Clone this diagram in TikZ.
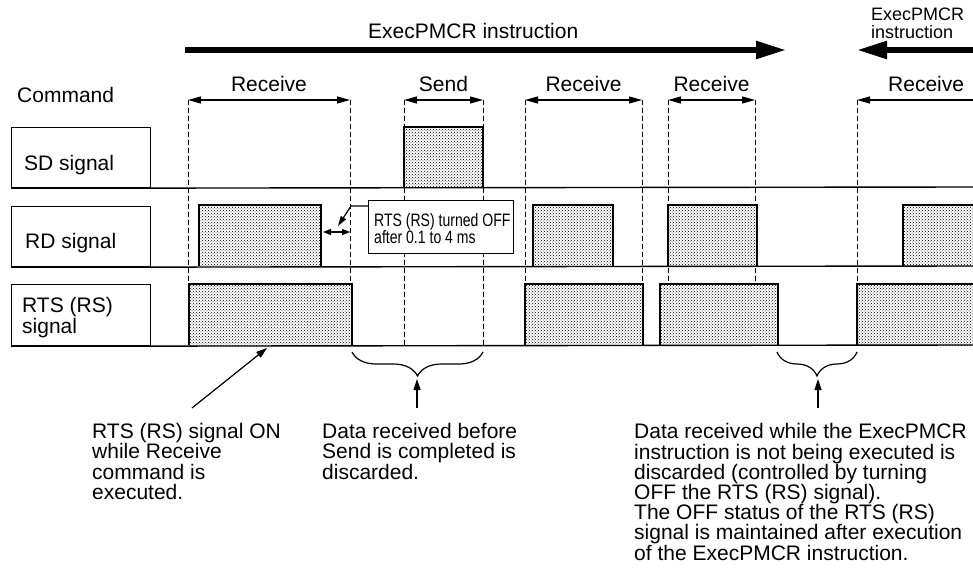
\documentclass[tikz,border=0pt]{standalone}
\usepackage{fontspec}
\setmainfont{Liberation Sans}
\newfontfamily\narrowfont[FakeStretch=0.78]{Liberation Sans}
\usetikzlibrary{arrows.meta,patterns,decorations.pathreplacing}
\tikzset{
  lbl/.style={font=\fontsize{21}{20.5}\selectfont, inner sep=0pt, align=left},
  smalllbl/.style={font=\fontsize{18}{18}\selectfont, inner sep=0pt, align=left},
  narrowlbl/.style={font=\narrowfont\fontsize{18}{17}\selectfont, inner sep=0pt, align=left},
  bigarrow/.style={line width=5.5pt},
  dimarrow/.style={line width=1.2pt},
  smalltip/.style={line width=1.2pt},
  guide/.style={dash pattern=on 5pt off 3pt, line width=0.8pt},
  pulseline/.style={line width=2.8pt, line join=miter},
  dotfill/.style={fill=white, postaction={pattern=crosshatch dots, pattern color=black}},
  sigbox/.style={draw, line width=1.3pt, minimum width=139pt, inner sep=0pt, anchor=north west},
  baseline/.style={line width=1.4pt},
  callbox/.style={draw, fill=white, line width=1.2pt, minimum width=145pt, minimum height=53pt, inner sep=0pt, anchor=north west},
  bracestyle/.style={decorate, decoration={brace, amplitude=24pt, mirror}, line width=1.2pt}
}
\begin{document}
\begin{tikzpicture}[x=1pt,y=-1pt]
\useasboundingbox (0,0) rectangle (973,569);

% ---------- ExecPMCR instruction arrows ----------
\coordinate (execA) at (185,50);
\coordinate (execB) at (786,50);
\coordinate (execC) at (857,50);
\coordinate (execD) at (973,50);
\draw[bigarrow, -{Triangle[length=30pt,width=17pt]}] (execA) -- (execB);
\draw[bigarrow, -{Triangle[length=30pt,width=17pt]}] (execD) -- (execC);
\node[lbl, anchor=base west] (execlbl) at (368,39) {ExecPMCR instruction};
\node[smalllbl, anchor=base west] (execlbl2) at (871,39) {ExecPMCR\\instruction};

% ---------- guide coordinates ----------
\foreach \n/\x in {1/188,2/350,3/404,4/483,5/525,6/642,7/668,8/755,9/857}
  \coordinate (g\n) at (\x,100);
\coordinate (gend) at (973,100);
\foreach \n in {1,...,9}
  \draw[guide] (g\n) -- ++(0,245);

% ---------- command arrows ----------
\draw[dimarrow, {Triangle[length=13pt,width=7pt]}-{Triangle[length=13pt,width=7pt]}] (g1) -- (g2);
\draw[dimarrow, {Triangle[length=13pt,width=7pt]}-{Triangle[length=13pt,width=7pt]}] (g3) -- (g4);
\draw[dimarrow, {Triangle[length=13pt,width=7pt]}-{Triangle[length=13pt,width=7pt]}] (g5) -- (g6);
\draw[dimarrow, {Triangle[length=13pt,width=7pt]}-{Triangle[length=13pt,width=7pt]}] (g7) -- (g8);
\draw[dimarrow, {Triangle[length=13pt,width=7pt]}-] (g9) -- (gend);
\path (g1) -- (g2) node[midway, lbl, anchor=base, yshift=8pt] (cmd1) {Receive};
\path (g3) -- (g4) node[midway, lbl, anchor=base, yshift=8pt] (cmd2) {Send};
\path (g5) -- (g6) node[midway, lbl, anchor=base, yshift=8pt] (cmd3) {Receive};
\path (g7) -- (g8) node[midway, lbl, anchor=base, yshift=8pt] (cmd4) {Receive};
\node[lbl, anchor=base west] (cmd5) at (888,92) {Receive};

% ---------- pulses ----------
\foreach \a/\b/\t/\bt in {404/483/127/187, 199/321/205/266, 533/613/205/266, 668/757/205/266,
                          189/352/284/345, 525/643/284/345, 660/778/284/345}{
  \fill[dotfill] (\a,\t) rectangle (\b,\bt);
  \draw[pulseline] (\a,\bt) -- (\a,\t) -- (\b,\t) -- (\b,\bt);
}
\foreach \a/\t/\bt in {903/205/266, 857/284/345}{
  \fill[dotfill] (\a,\t) rectangle (973,\bt);
  \draw[pulseline] (\a,\bt) -- (\a,\t) -- (974,\t);
}

% ---------- signal rows ----------
\node[lbl, anchor=base west] (cmdlbl) at (17,103) {Command};
\node[sigbox, minimum height=60pt] (sdbox) at (11,127) {};
\node[sigbox, minimum height=60pt] (rdbox) at (11,206) {};
\node[sigbox, minimum height=61pt] (rtsbox) at (11,284) {};
\node[lbl, anchor=base west] (sdlbl) at (24,171) {SD signal};
\node[lbl, anchor=base west] (rdlbl) at (25,248) {RD signal};
\node[lbl, anchor=base west] (rtslbl) at (22,333) {RTS (RS)\\signal};
\draw[baseline] (sdbox.south west) -- (973,187);
\draw[baseline] (rdbox.south west) -- (973,266);
\draw[baseline] (rtsbox.south west) -- (973,345);

% ---------- callout ----------
\node[callbox] (callout) at (368,200) {};
\node[narrowlbl, anchor=base west] (calltext) at (374,243) {RTS (RS) turned OFF\\after 0.1 to 4 ms};
\coordinate (lead1) at (351,206);
\coordinate (lead2) at (338,226);
\draw[smalltip, -{Triangle[length=10pt,width=6pt]}] ([yshift=-6pt]callout.north west) -- (lead1) -- (lead2);
\coordinate (dA) at (323,232);
\coordinate (dB) at (350,232);
\draw[smalltip, {Triangle[length=8pt,width=6pt]}-{Triangle[length=8pt,width=6pt]}] (dA) -- (dB);

% ---------- braces ----------
\coordinate (br1a) at (352,352);
\coordinate (br1b) at (483,352);
\coordinate (br2a) at (777,352);
\coordinate (br2b) at (857,352);
\draw[bracestyle] (br1a) -- (br1b);
\draw[bracestyle] (br2a) -- (br2b);

% ---------- notes ----------
\node[lbl, anchor=base west] (note1) at (92,499.5) {RTS (RS) signal ON\\while Receive\\command is\\executed.};
\node[lbl, anchor=base west] (note2) at (322,479) {Data received before\\Send is completed is\\discarded.};
\node[lbl, font=\fontsize{21}{20.2}\selectfont, anchor=base west] (note3) at (634,560) {Data received while the ExecPMCR\\instruction is not being executed is\\discarded (controlled by turning\\OFF the RTS (RS) signal).\\The OFF status of the RTS (RS)\\signal is maintained after execution\\of the ExecPMCR instruction.};

\coordinate (n1s) at (192,408);
\coordinate (n1e) at (267,348);
\draw[smalltip, -{Triangle[length=11pt,width=7pt]}] (n1s) -- (n1e);
\coordinate (n2s) at (417,408);
\coordinate (n2e) at (417,379);
\draw[smalltip, -{Triangle[length=11pt,width=7pt]}] (n2s) -- (n2e);
\coordinate (n3s) at (818,408);
\coordinate (n3e) at (818,379);
\draw[smalltip, -{Triangle[length=11pt,width=7pt]}] (n3s) -- (n3e);
\end{tikzpicture}
\end{document}
